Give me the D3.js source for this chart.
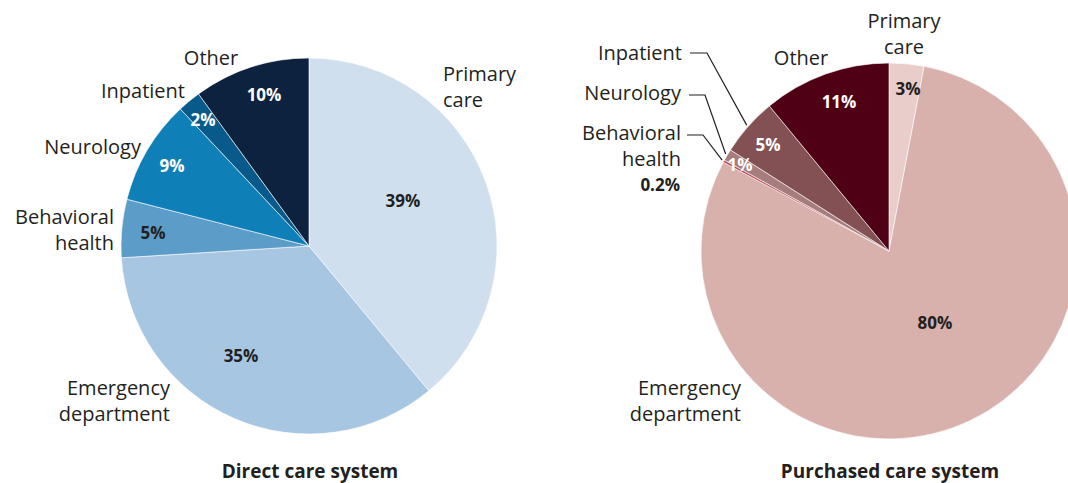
<!DOCTYPE html>
<html>
<head>
<meta charset="utf-8">
<script src="https://cdn.jsdelivr.net/npm/d3@7"></script>
<style>
  body { margin: 0; background: #fff; }
  svg text { font-family: "Open Sans", "Noto Sans", sans-serif; fill: #231f20; }
</style>
</head>
<body>
<div id="chart"></div>
<script>
// categories, clockwise from 12 o'clock
var categories = ["Primary care", "Emergency department", "Behavioral health", "Neurology", "Inpatient", "Other"];
var directValues = [39, 35, 5, 9, 2, 10];
var purchasedValues = [3, 80, 0.2, 1, 5, 11];
var directLabels = ["39%", "35%", "5%", "9%", "2%", "10%"];
var purchasedLabels = ["3%", "80%", "0.2%", "1%", "5%", "11%"];
var titles = ["Direct care system", "Purchased care system"];

var directColors = ["#d0dfee", "#a7c6e2", "#5c9cc9", "#0f7fb8", "#085a8a", "#0d223f"];
var purchasedColors = ["#e8cdca", "#d8b0ac", "#b8454f", "#a67c7c", "#835153", "#500015"];

var width = 1068, height = 483;
var radius = 188;
var titleY = 471;

var svg = d3.select("#chart").append("svg")
  .attr("width", width)
  .attr("height", height);

var pie = d3.pie().sort(null).value(function(d) { return d; });
var arc = d3.arc().innerRadius(0).outerRadius(radius);

// label placement, offsets from the pie centre
var directPct = [[94, -45, "#231f20"], [-68, 110, "#231f20"], [-156, -13, "#231f20"],
                 [-137, -80, "#fff"], [-106, -126, "#fff"], [-45, -151, "#fff"]];
var directCat = [
  { x: 134, y: -172, anchor: "start", lines: ["Primary", "care"] },
  { x: -139, y: 142, anchor: "end", lines: ["Emergency", "department"] },
  { x: -195, y: -29, anchor: "end", lines: ["Behavioral", "health"] },
  { x: -168, y: -99, anchor: "end", lines: ["Neurology"] },
  { x: -124, y: -155, anchor: "end", lines: ["Inpatient"] },
  { x: -98, y: -188, anchor: "middle", lines: ["Other"] }
];
var purchasedPct = [[19, -162, "#231f20"], [46, 72, "#231f20"], null,
                    [-149, -86, "#fff"], [-121, -106, "#fff"], [-50, -149, "#fff"]];
var purchasedCat = [
  { x: 15, y: -230, anchor: "middle", lines: ["Primary", "care"] },
  { x: -148, y: 137, anchor: "end", lines: ["Emergency", "department"] },
  { x: -208, y: -118, anchor: "end", lines: ["Behavioral", "health"] },
  { x: -208, y: -158, anchor: "end", lines: ["Neurology"] },
  { x: -207, y: -198, anchor: "end", lines: ["Inpatient"] },
  { x: -88, y: -193, anchor: "middle", lines: ["Other"] }
];
// leader lines for the thin purchased-care slices: [elbow start x, y, elbow end x]
var leaders = [null, null, [-202, -116, -186], [-200, -156, -184], [-199, -198, -182]];

function drawPie(cx, cy, values, colors, pctPos, catPos, pctText, title, leaderPts) {
  var g = svg.append("g").attr("transform", "translate(" + cx + "," + cy + ")");
  var arcs = pie(values);

  g.selectAll("path.slice")
    .data(arcs)
    .enter()
    .append("path")
    .attr("class", "slice")
    .attr("d", arc)
    .attr("fill", function(d, i) { return colors[i]; })
    .attr("stroke", "#fff")
    .attr("stroke-width", 0.6);

  // percentages inside slices
  arcs.forEach(function(d, i) {
    if (!pctPos[i]) return;
    g.append("text")
      .attr("x", pctPos[i][0])
      .attr("y", pctPos[i][1])
      .attr("dy", "0.35em")
      .attr("text-anchor", "middle")
      .style("font-size", "17px")
      .style("font-weight", "bold")
      .style("fill", pctPos[i][2])
      .text(pctText[i]);
  });

  // category labels
  catPos.forEach(function(p, i) {
    var t = g.append("text")
      .attr("text-anchor", p.anchor)
      .style("font-size", "20px");
    p.lines.forEach(function(line, j) {
      t.append("tspan")
        .attr("x", p.x)
        .attr("y", p.y + j * 26)
        .attr("dy", "0.35em")
        .text(line);
    });
  });

  // leader lines to the outer edge of small slices
  if (leaderPts) {
    leaderPts.forEach(function(l, i) {
      if (!l) return;
      var a = (arcs[i].startAngle + arcs[i].endAngle) / 2;
      var ex = Math.sin(a) * (radius + 2);
      var ey = -Math.cos(a) * (radius + 2);
      g.append("path")
        .attr("d", "M" + l[0] + "," + l[1] + "L" + l[2] + "," + l[1] + "L" + ex + "," + ey)
        .attr("fill", "none")
        .attr("stroke", "#231f20")
        .attr("stroke-width", 1.2);
    });
  }

  svg.append("text")
    .attr("x", cx + 1)
    .attr("y", titleY)
    .attr("dy", "0.35em")
    .attr("text-anchor", "middle")
    .style("font-size", "19px")
    .style("font-weight", "bold")
    .text(title);

  return g;
}

drawPie(309, 246, directValues, directColors, directPct, directCat, directLabels, titles[0], null);
var right = drawPie(889, 251, purchasedValues, purchasedColors, purchasedPct, purchasedCat, purchasedLabels, titles[1], leaders);

// the 0.2% value sits under the behavioral health label
right.append("text")
  .attr("x", -209)
  .attr("y", -66)
  .attr("dy", "0.35em")
  .attr("text-anchor", "end")
  .style("font-size", "17px")
  .style("font-weight", "bold")
  .text(purchasedLabels[2]);
</script>
</body>
</html>
